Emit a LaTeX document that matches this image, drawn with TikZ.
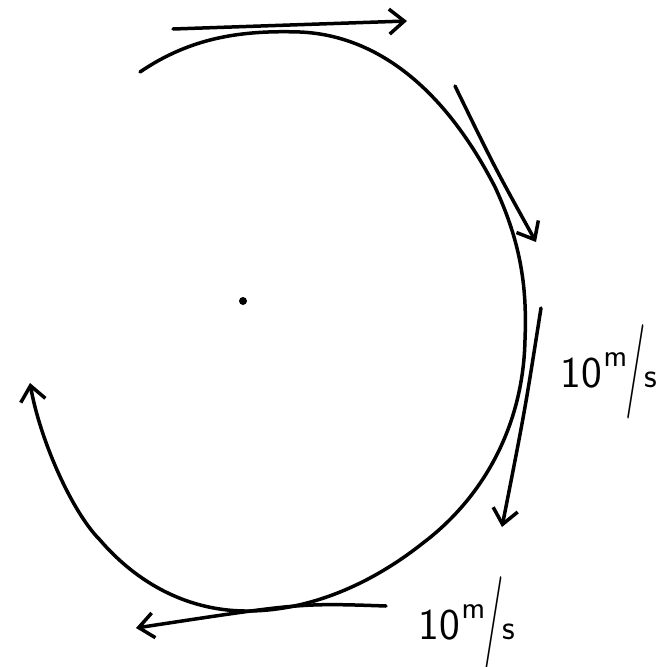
\documentclass[tikz,border=0pt]{standalone}
\usepackage{graphicx}
\usetikzlibrary{arrows.meta, calc, positioning}
\newcommand{\speedunit}{10\kern2pt\raisebox{1.1ex}{\scalebox{0.72}{m}}\kern-2pt\raisebox{-0.45ex}{\scalebox{1}[2.15]{/}}\kern-1pt\scalebox{0.8}{s}}
\tikzset{
  % traiettoria tracciata a mano
  orbit/.style={line width=3.5pt, line cap=round, line join=round},
  % vettore velocita' tangente
  vel/.style={orbit, -{Straight Barb[length=15pt, width=25pt]}},
  % centro della circonferenza
  centre/.style={circle, fill=black, minimum size=8pt, inner sep=0pt},
  % etichette del modulo della velocita'
  speedlbl/.style={font=\sffamily\fontsize{44}{50}\selectfont, inner sep=0pt, anchor=center},
}

\begin{document}
\begin{tikzpicture}[x=1pt, y=-1pt]
  \useasboundingbox (0,0) rectangle (660,667);
  \node[centre] (c) at (243,301) {};
  \draw[vel] (140,72) .. controls (190,38) and (240,30) .. (300,32)
    .. controls (370,35) and (440,80) .. (495,187)
    .. controls (522,245) and (527,290) .. (525,340)
    .. controls (523,430) and (480,500) .. (423,543)
    .. controls (370,585) and (310,610) .. (250,611)
    .. controls (180,612) and (130,575) .. (100,540)
    .. controls (72,512) and (40,440) .. (30,383);
  \draw[vel] (173,29) .. controls (290,25) .. (407,21);
  \draw[vel] (455,86) .. controls (495,168) .. (536,242);
  \draw[vel] (541,308) .. controls (525,410) .. (502,527);
  \draw[vel] (386,606) .. controls (300,603) .. (136,628);
  \node[speedlbl] (vright) at (609,372) {\speedunit};
  \node[speedlbl] (vbottom) at (467,624) {\speedunit};
\end{tikzpicture}
\end{document}
